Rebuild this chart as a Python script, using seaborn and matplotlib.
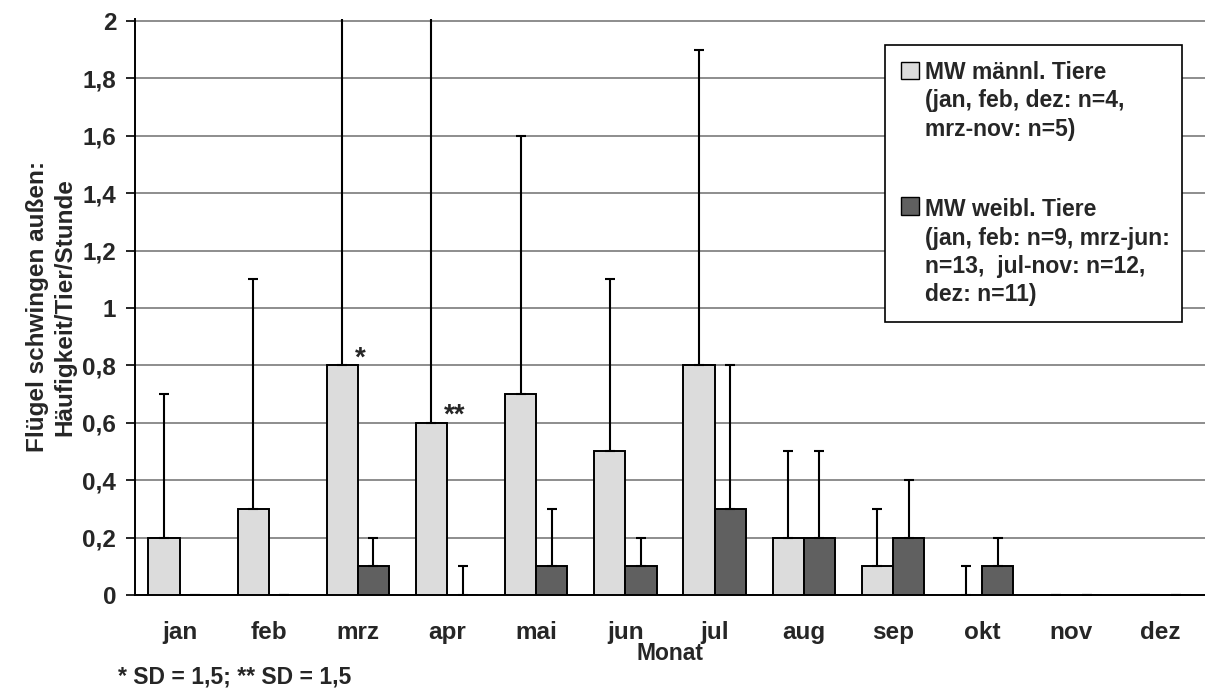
import numpy as np
import pandas as pd
import matplotlib
matplotlib.use("Agg")
import matplotlib.pyplot as plt
from matplotlib.ticker import FuncFormatter, MultipleLocator, FixedLocator
from matplotlib.patches import Patch, Rectangle
from matplotlib.legend_handler import HandlerPatch
import seaborn as sns

months = ["jan", "feb", "mrz", "apr", "mai", "jun", "jul", "aug", "sep", "okt", "nov", "dez"]
male_mean = [0.2, 0.3, 0.8, 0.6, 0.7, 0.5, 0.8, 0.2, 0.1, 0.0, 0.0, 0.0]
male_sd = [0.5, 0.8, 1.5, 1.5, 0.9, 0.6, 1.1, 0.3, 0.2, 0.1, 0.0, 0.0]
female_mean = [0.0, 0.0, 0.1, 0.0, 0.1, 0.1, 0.3, 0.2, 0.2, 0.1, 0.0, 0.0]
female_sd = [0.0, 0.0, 0.1, 0.1, 0.2, 0.1, 0.5, 0.3, 0.2, 0.1, 0.0, 0.0]

male_label = "MW männl. Tiere\n(jan, feb, dez: n=4,\nmrz-nov: n=5)"
female_label = "MW weibl. Tiere\n(jan, feb: n=9, mrz-jun:\nn=13,  jul-nov: n=12,\ndez: n=11)"
groups = ["männlich", "weiblich"]
colors = ["#dcdcdc", "#606060"]

df = pd.DataFrame({
    "Monat": months * 2,
    "Wert": male_mean + female_mean,
    "Gruppe": [groups[0]] * 12 + [groups[1]] * 12,
})

sns.set_style("white")
plt.rcParams["font.family"] = ["Liberation Sans", "DejaVu Sans"]
plt.rcParams["font.weight"] = "bold"

fig = plt.figure(figsize=(12.05, 6.95), dpi=100)
ax = fig.add_axes([0.112, 0.144, 0.888, 0.829])

sns.barplot(data=df, x="Monat", y="Wert", hue="Gruppe", order=months,
            hue_order=groups, palette=colors, width=0.7, errorbar=None,
            edgecolor="black", linewidth=1.4, ax=ax, legend=False, zorder=3)

# upward-only standard deviation whiskers
for cont, sd in zip(ax.containers, [male_sd, female_sd]):
    xs = [p.get_x() + p.get_width() / 2 for p in cont]
    ys = [p.get_height() for p in cont]
    ax.errorbar(xs, ys, yerr=[np.zeros(len(sd)), sd], fmt="none",
                ecolor="black", elinewidth=1.5, capsize=3.3, capthick=1.5,
                zorder=4)

ax.set_ylim(0, 2.008)
ax.set_xlim(-0.5, 11.5)
ax.yaxis.set_major_locator(MultipleLocator(0.2))
ax.yaxis.set_major_formatter(FuncFormatter(
    lambda v, p: f"{v:.1f}".rstrip("0").rstrip(".").replace(".", ",")))
ax.grid(axis="y", color="#7a7a7a", linewidth=1.2, zorder=0)
ax.set_axisbelow(True)

for s in ["top", "right"]:
    ax.spines[s].set_visible(False)
for s in ["left", "bottom"]:
    ax.spines[s].set_color("black")
    ax.spines[s].set_linewidth(1.4)

ax.xaxis.set_minor_locator(FixedLocator(np.arange(-0.5, 11.6, 1.0)))
ax.tick_params(axis="x", which="major", length=0, pad=19, labelsize=17.5)
ax.tick_params(axis="x", which="minor", direction="out", length=8, width=1.2, color="black")
ax.tick_params(axis="y", which="major", direction="out", length=6.5, width=1.2, color="black",
               labelsize=17.5, pad=7, left=True)
for lbl in ax.get_xticklabels() + ax.get_yticklabels():
    lbl.set_fontweight("bold")

ax.set_xlabel("Monat", fontsize=16.5, fontweight="bold", labelpad=-2)
ax.set_ylabel("Flügel schwingen außen:\nHäufigkeit/Tier/Stunde", fontsize=17.5,
              fontweight="bold", labelpad=4, linespacing=1.25)

# significance markers beside the March and April male bars
c0 = ax.containers[0]
for i, mark in [(2, "*"), (3, "**")]:
    p = c0[i]
    ax.text(p.get_x() + p.get_width() - 0.03, male_mean[i], mark,
            ha="left", va="baseline", fontsize=20, fontweight="bold", zorder=5)

fig.text(0.098, 0.0165, "* SD = 1,5; ** SD = 1,5", fontsize=16.5, fontweight="bold")


class FirstLineHandler(HandlerPatch):
    """Place the legend swatch beside the first line of a multi-line label."""

    def __init__(self, shift, **kw):
        super().__init__(**kw)
        self.shift = shift

    def create_artists(self, legend, orig_handle, xdescent, ydescent, width, height,
                       fontsize, trans):
        side = height
        p = Rectangle((-xdescent, -ydescent + self.shift), side, side,
                      facecolor=orig_handle.get_facecolor(),
                      edgecolor=orig_handle.get_edgecolor(),
                      linewidth=orig_handle.get_linewidth(), transform=trans)
        return [p]


leg_fs = 16.5
h_male = Patch(facecolor=colors[0], edgecolor="black", linewidth=1.0)
h_female = Patch(facecolor=colors[1], edgecolor="black", linewidth=1.0)
leg = ax.legend([h_male, h_female], [male_label, female_label], loc="upper left",
                bbox_to_anchor=(885 / 1205, 1 - 45 / 695, 297 / 1205, 0.0),
                bbox_transform=fig.transFigure, mode="expand",
                handler_map={h_male: FirstLineHandler(22.6),
                             h_female: FirstLineHandler(34.0)},
                frameon=True, fancybox=False, edgecolor="black", framealpha=1,
                prop={"weight": "bold", "size": leg_fs}, labelspacing=2.5,
                handlelength=0.8, handleheight=0.8, handletextpad=0.25,
                borderpad=0.7, borderaxespad=0)
leg.get_frame().set_linewidth(1.2)
for t in leg.get_texts():
    t.set_linespacing(1.3)

fig.savefig("out.png", dpi=100)
